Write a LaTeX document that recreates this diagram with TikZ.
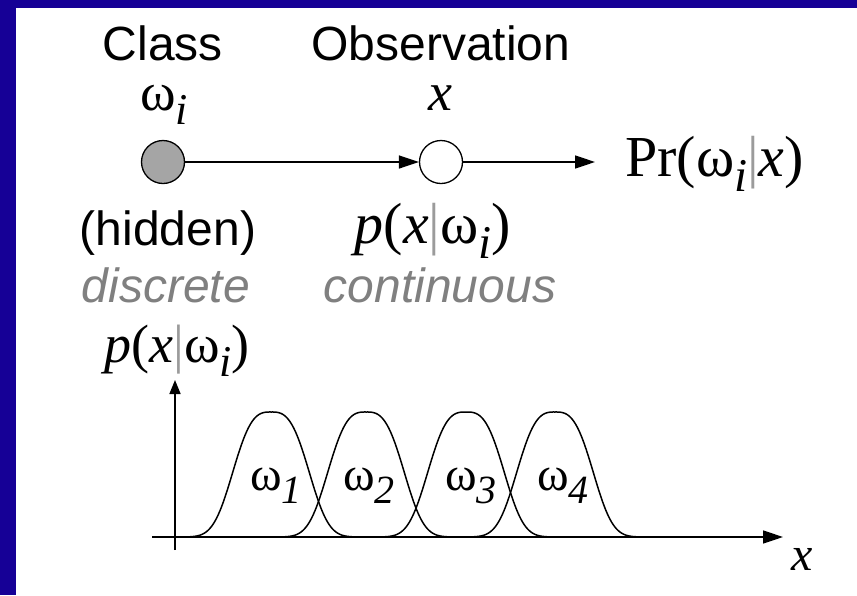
\documentclass[tikz,border=0pt]{standalone}
\usepackage{fontspec}
\setmainfont{Liberation Serif}
\newfontfamily\arial{Liberation Sans}
\usetikzlibrary{arrows.meta}
\definecolor{slideblue}{RGB}{22,0,150}
\definecolor{circgray}{RGB}{165,165,165}
\definecolor{txtgray}{RGB}{128,128,128}
\definecolor{bargray}{RGB}{155,155,155}
\newcommand{\lowsub}[1]{\raisebox{-13pt}{\fontsize{40}{40}\selectfont\itshape #1}}
\newcommand{\bigsub}[1]{\raisebox{-15pt}{\fontsize{47}{47}\selectfont\itshape #1}}
\newcommand{\midsub}[1]{\raisebox{-14pt}{\fontsize{44}{44}\selectfont\itshape #1}}
\newcommand{\gbar}{\textcolor{bargray}{|}}
\begin{document}
\begin{tikzpicture}[x=1pt,y=-1pt,
  sans/.style={font=\arial\fontsize{48}{50}\selectfont, inner sep=0pt, anchor=base},
  gsans/.style={font=\arial\itshape\fontsize{48}{50}\selectfont, text=txtgray, inner sep=0pt, anchor=base},
  serif/.style={font=\fontsize{48}{50}\selectfont, inner sep=0pt, anchor=base},
  midserif/.style={font=\fontsize{54}{56}\selectfont, inner sep=0pt, anchor=base},
  bigserif/.style={font=\fontsize{58}{60}\selectfont, inner sep=0pt, anchor=base},
  dot/.style={circle, draw, line width=1.3pt, minimum size=43pt, inner sep=0pt},
  arr/.style={line width=1.6pt, -{Triangle[length=20pt,width=13pt]}},
  yarr/.style={line width=1.6pt, -{Triangle[length=14pt,width=11pt]}},
  bump/.style={line width=1.5pt, line join=round}]
\useasboundingbox (0,0) rectangle (857,595);
\fill[white] (0,0) rectangle (857,595);
\fill[slideblue] (0,0) rectangle (857,8);
\fill[slideblue] (0,0) rectangle (16,595);
% top graph
\node[sans] (cls) at (163,60) {Class};
\node[sans] (obsl) at (441,60) {Observation};
\node[midserif] (wi) at (164,110) {ω\midsub{i}};
\node[midserif] (xv) at (440,110) {\textit{x}};
\node[dot, fill=circgray] (hid) at (163,162) {};
\node[dot, fill=white] (obs) at (441,162) {};
\node[bigserif, anchor=base west] (pr) at (625,176) {Pr(ω\bigsub{i}\gbar\textit{x})};
\draw[arr] (hid) -- (obs);
\draw[arr, shorten >=30pt] (obs.east) -- (obs.east -| pr.west);
\node[sans] (hidl) at (168,245) {(hidden)};
\node[bigserif] (pxw) at (433,243) {\textit{p}(\textit{x}\gbar ω\bigsub{i})};
\node[gsans] (disc) at (166,302) {discrete};
\node[gsans] (cont) at (440,302) {continuous};
% bottom plot
\node[midserif] (pyl) at (177,362) {\textit{p}(\textit{x}\gbar ω\midsub{i})};
\coordinate (yb) at (175,550);
\coordinate (yt) at (175,380);
\coordinate (xl) at (152,537);
\coordinate (xr) at (783,537);
\draw[yarr] (yb) -- (yt);
\draw[arr] (xl) -- (xr);
\node[serif] (xl2) at (802,570) {\textit{x}};
\draw[bump] plot[domain=-96:95, samples=120] ({271+\x}, {537-125*exp(-(abs(\x)/44)^3)});
\draw[bump] plot[domain=-96:95, samples=120] ({366+\x}, {537-125*exp(-(abs(\x)/44)^3)});
\draw[bump] plot[domain=-95:95, samples=120] ({466+\x}, {537-125*exp(-(abs(\x)/44)^3)});
\draw[bump] plot[domain=-90:88, samples=120] ({555+\x}, {537-125*exp(-(abs(\x)/44)^3)});
\node[serif, anchor=base west] (w1) at (250,490) {ω\lowsub{1}};
\node[serif, anchor=base west] (w2) at (343,490) {ω\lowsub{2}};
\node[serif, anchor=base west] (w3) at (445,490) {ω\lowsub{3}};
\node[serif, anchor=base west] (w4) at (537,490) {ω\lowsub{4}};
\end{tikzpicture}
\end{document}
